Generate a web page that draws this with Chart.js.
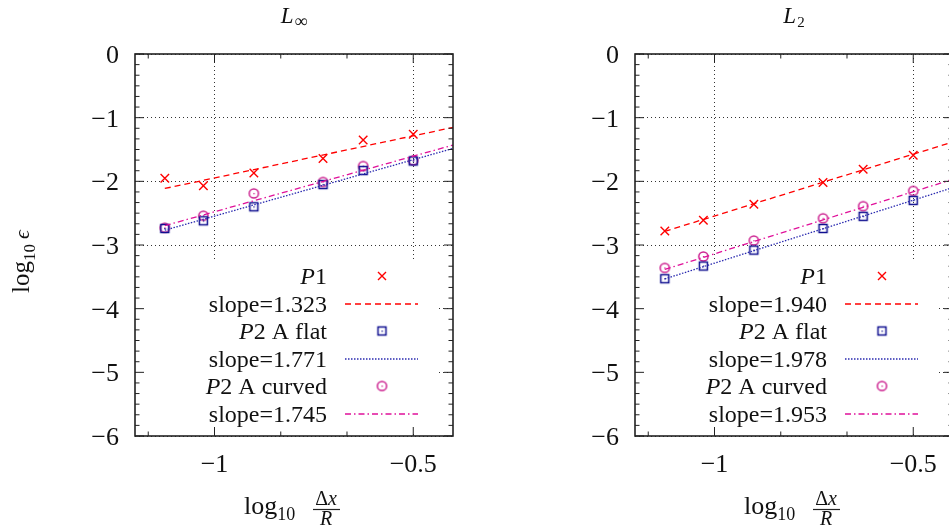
<!DOCTYPE html>
<html>
<head>
<meta charset="utf-8">
<script src="https://cdn.jsdelivr.net/npm/chart.js@4.4.0/dist/chart.umd.min.js"></script>
<style>
  html, body { margin: 0; padding: 0; background: #fff; overflow: hidden; width: 949px; height: 531px; }
  canvas { position: absolute; top: 0; }
  #linf { left: 0; }
  #l2 { left: 500px; }
</style>
</head>
<body>
<canvas id="linf" width="475" height="531"></canvas>
<canvas id="l2" width="475" height="531"></canvas>
<script>
// x values: log10(dx/R)
const logDx = [-1.125, -1.028, -0.901, -0.727, -0.626, -0.5];

// L-infinity panel
const linfP1 = [-1.95, -2.07, -1.87, -1.64, -1.35, -1.26];
const linfFlat = [-2.74, -2.62, -2.40, -2.05, -1.83, -1.68];
const linfCurved = [-2.73, -2.54, -2.19, -2.01, -1.76, -1.67];
const linfSlopes = [1.323, 1.771, 1.745];
const linfIntercepts = [-0.624, -0.775, -0.733];

// L2 panel
const l2P1 = [-2.78, -2.61, -2.36, -2.02, -1.81, -1.59];
const l2Flat = [-3.53, -3.33, -3.08, -2.74, -2.55, -2.30];
const l2Curved = [-3.36, -3.18, -2.93, -2.58, -2.39, -2.15];
const l2Slopes = [1.940, 1.978, 1.953];
const l2Intercepts = [-0.604, -1.307, -1.186];

const seriesNames = ['P1', 'P2 A flat', 'P2 A curved'];
const xTicks = [-1, -0.5];
const xTickLabels = ['\u22121', '\u22120.5'];
const xMinorTicks = [-1.1667, -0.8333, -0.6667];
const yTicks = [-6, -5, -4, -3, -2, -1, 0];
const yTickLabels = ['\u22126', '\u22125', '\u22124', '\u22123', '\u22122', '\u22121', '0'];
const xMin = -1.2, xMax = -0.4, yMin = -6, yMax = 0;

const markColors = ['#ff0000', '#101090', '#cc2290'];
const fitColors = ['#ff0000', '#2a2ab0', '#e0109a'];
const fitDash = [[6, 4], [1.5, 1.5], [6, 3, 1.5, 3]];
const serif = '"Liberation Serif", "DejaVu Serif", serif';

// small marker images: box with dot, circle with dot
function marker(kind, color) {
  const c = document.createElement('canvas');
  c.width = 13; c.height = 13;
  const g = c.getContext('2d');
  g.strokeStyle = color; g.fillStyle = color; g.lineWidth = 1.5;
  if (kind === 'box') g.strokeRect(2.5, 2.5, 8, 8);
  else { g.beginPath(); g.arc(6.5, 6.5, 4.6, 0, Math.PI * 2); g.stroke(); }
  g.fillRect(6, 6, 1.3, 1.3);
  return c;
}
const boxMark = marker('box', markColors[1]);
const circMark = marker('circ', markColors[2]);

function pts(ys) { return logDx.map((x, i) => ({ x: x, y: ys[i] })); }
function fitLine(s, b) {
  const x0 = logDx[0], x1 = xMax;
  return [{ x: x0, y: s * x0 + b }, { x: x1, y: s * x1 + b }];
}

function drawRich(ctx, parts, x, y, align) {
  let w = 0;
  parts.forEach(p => { ctx.font = p.font; w += ctx.measureText(p.t).width + (p.gap || 0); });
  let cx = align === 'right' ? x - w : align === 'center' ? x - w / 2 : x;
  ctx.textAlign = 'left';
  ctx.textBaseline = 'alphabetic';
  parts.forEach(p => {
    ctx.font = p.font;
    ctx.fillText(p.t, cx, y + (p.dy || 0));
    cx += ctx.measureText(p.t).width + (p.gap || 0);
  });
}

function nameParts(name) {
  return [
    { t: 'P', font: 'italic 24px ' + serif },
    { t: name.slice(1), font: '24px ' + serif }
  ];
}

function decor(cfg) {
  return {
    id: 'decor',
    beforeDatasetsDraw(chart) {
      const ctx = chart.ctx;
      const left = chart.chartArea.left;
      ctx.save();
      ctx.fillStyle = '#fff';
      ctx.fillRect(left + 1, 261, 436 - left - 1, 170);
      ctx.fillStyle = '#111';
      const rowY = [276, 303.5, 331, 358.5, 386, 413.5];
      for (let i = 0; i < 3; i++) {
        const yName = rowY[2 * i], ySlope = Math.round(rowY[2 * i + 1]);
        drawRich(ctx, nameParts(seriesNames[i]), 327, yName + 8, 'right');
        drawRich(ctx, [{ t: 'slope=' + cfg.slopes[i].toFixed(3), font: '24px ' + serif }], 327, ySlope + 8, 'right');
        // marker sample
        if (i === 0) {
          ctx.strokeStyle = markColors[0]; ctx.lineWidth = 1.4;
          ctx.beginPath();
          ctx.moveTo(378, yName - 4); ctx.lineTo(386, yName + 4);
          ctx.moveTo(386, yName - 4); ctx.lineTo(378, yName + 4);
          ctx.stroke();
        } else {
          const m = i === 1 ? boxMark : circMark;
          ctx.drawImage(m, 382 - 6.5, yName - 6.5);
        }
        // line sample
        ctx.strokeStyle = fitColors[i]; ctx.lineWidth = 1.6;
        ctx.setLineDash(fitDash[i]);
        ctx.beginPath(); ctx.moveTo(345, ySlope); ctx.lineTo(418, ySlope); ctx.stroke();
        ctx.setLineDash([]);
      }
      ctx.restore();
    },
    afterDraw(chart) {
      const ctx = chart.ctx;
      const { left, right, top, bottom } = chart.chartArea;
      const xs = chart.scales.x, ys = chart.scales.y;
      ctx.save();
      ctx.strokeStyle = '#222';
      ctx.lineWidth = 1;
      const seg = (a, b, c, d) => { ctx.beginPath(); ctx.moveTo(a, b); ctx.lineTo(c, d); ctx.stroke(); };
      // ticks, inward and mirrored
      yTicks.forEach(v => { const p = ys.getPixelForValue(v); seg(left, p, left + 9, p); seg(right, p, right - 9, p); });
      for (let k = 0; k <= 36; k++) {
        if (k % 6 === 0) continue;
        const p = ys.getPixelForValue(yMin + k / 6);
        seg(left, p, left + 4.5, p); seg(right, p, right - 4.5, p);
      }
      xTicks.forEach(v => { const p = xs.getPixelForValue(v); seg(p, bottom, p, bottom - 9); seg(p, top, p, top + 9); });
      xMinorTicks.forEach(v => { const p = xs.getPixelForValue(v); seg(p, bottom, p, bottom - 4.5); seg(p, top, p, top + 4.5); });
      // border
      ctx.lineWidth = 1.6;
      ctx.strokeRect(left, top, right - left, bottom - top);
      // tick labels
      ctx.fillStyle = '#111';
      yTicks.forEach((v, i) => {
        drawRich(ctx, [{ t: yTickLabels[i], font: '26px ' + serif }], left - 16, ys.getPixelForValue(v) + 9, 'right');
      });
      xTicks.forEach((v, i) => {
        drawRich(ctx, [{ t: xTickLabels[i], font: '26px ' + serif }], xs.getPixelForValue(v), 472, 'center');
      });
      // title
      drawRich(ctx, [
        { t: 'L', font: 'italic 23px ' + serif, gap: 1 },
        { t: cfg.sub, font: cfg.subFont + serif, dy: 4 }
      ], (left + right) / 2, 23, 'center');
      // x axis label: log10 (dx / R)
      drawRich(ctx, [
        { t: 'log', font: '26px ' + serif },
        { t: '10', font: '18px ' + serif, dy: 6 }
      ], 244, 514, 'left');
      drawRich(ctx, [{ t: '\u0394', font: '20px ' + serif }, { t: 'x', font: 'italic 20px ' + serif }], 326, 505, 'center');
      ctx.lineWidth = 1.2;
      seg(313, 509.5, 340, 509.5);
      drawRich(ctx, [{ t: 'R', font: 'italic 20px ' + serif }], 326, 525, 'center');
      // y axis label
      if (cfg.yLabel) {
        ctx.translate(29, 293);
        ctx.rotate(-Math.PI / 2);
        drawRich(ctx, [
          { t: 'log', font: '25px ' + serif },
          { t: '10', font: '17px ' + serif, dy: 6, gap: 5 },
          { t: '\u03f5', font: 'italic 22px ' + serif }
        ], 0, 0, 'left');
      }
      ctx.restore();
    }
  };
}

function makePanel(id, p1, flat, curved, slopes, intercepts, cfg) {
  cfg.slopes = slopes;
  const fitSet = i => ({
    data: fitLine(slopes[i], intercepts[i]),
    showLine: true, pointRadius: 0,
    borderColor: fitColors[i], borderWidth: 1.3, borderDash: fitDash[i]
  });
  return new Chart(document.getElementById(id), {
    type: 'scatter',
    data: {
      datasets: [
        fitSet(0), fitSet(1), fitSet(2),
        { data: pts(p1), pointStyle: 'crossRot', pointRadius: 6, borderColor: markColors[0], borderWidth: 1.4 },
        { data: pts(flat), pointStyle: boxMark, pointRadius: 6 },
        { data: pts(curved), pointStyle: circMark, pointRadius: 6 }
      ]
    },
    options: {
      responsive: false,
      animation: false,
      layout: { padding: { left: 135, right: 22, top: 54, bottom: 95 } },
      plugins: { legend: { display: false }, tooltip: { enabled: false } },
      scales: {
        x: {
          type: 'linear', min: xMin, max: xMax,
          afterBuildTicks: s => { s.ticks = xTicks.map(v => ({ value: v })); },
          afterFit: s => { s.height = 0; },
          ticks: { display: false },
          grid: { color: '#333', lineWidth: 1, drawTicks: false },
          border: { display: false, dash: [1, 3] }
        },
        y: {
          type: 'linear', min: yMin, max: yMax,
          afterBuildTicks: s => { s.ticks = yTicks.map(v => ({ value: v })); },
          afterFit: s => { s.width = 0; },
          ticks: { display: false },
          grid: { color: '#333', lineWidth: 1, drawTicks: false },
          border: { display: false, dash: [1, 3] }
        }
      }
    },
    plugins: [decor(cfg)]
  });
}

makePanel('linf', linfP1, linfFlat, linfCurved, linfSlopes, linfIntercepts, { sub: '\u221e', subFont: '18px ', yLabel: true });
makePanel('l2', l2P1, l2Flat, l2Curved, l2Slopes, l2Intercepts, { sub: '2', subFont: '15px ', yLabel: false });
</script>
</body>
</html>
